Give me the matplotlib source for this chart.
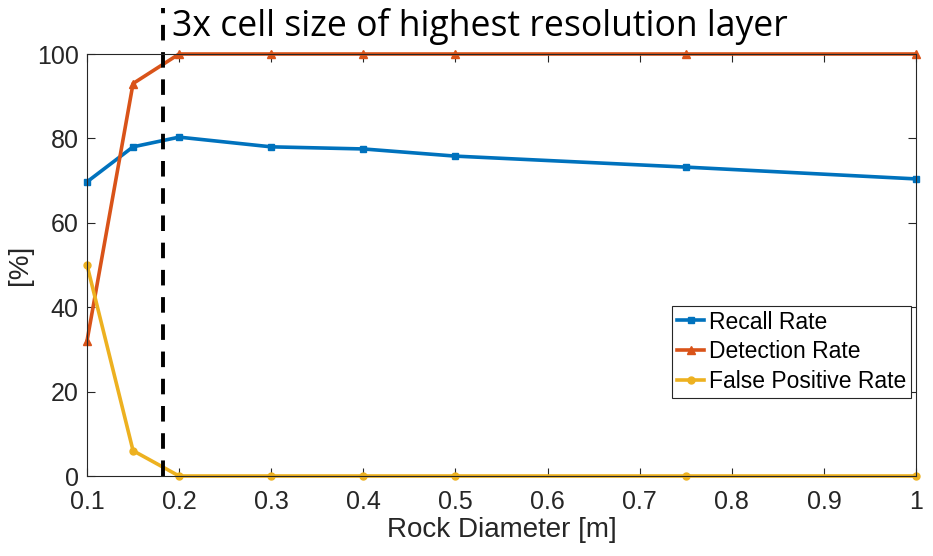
import matplotlib.pyplot as plt
import numpy as np

# rock diameter [m]
diameters = [0.1, 0.15, 0.2, 0.3, 0.4, 0.5, 0.75, 1.0]
recall_rate = [69.7, 78.0, 80.3, 78.0, 77.5, 75.8, 73.2, 70.4]
detection_rate = [32.0, 93.0, 100, 100, 100, 100, 100, 100]
false_pos_rate = [50.0, 6.0, 0, 0, 0, 0, 0, 0]
cell_limit = 0.1825

plt.rcParams['font.family'] = ['Liberation Sans', 'DejaVu Sans']

fig = plt.figure(figsize=(9.33, 5.56), dpi=100)
ax = fig.add_axes([87 / 933, 80 / 556, 829 / 933, 422 / 556])

ax.plot(diameters, recall_rate, '-s', color='#0072BD', lw=2.6, ms=5, label='Recall Rate', clip_on=False)
ax.plot(diameters, detection_rate, '-^', color='#D95319', lw=2.6, ms=6, label='Detection Rate', clip_on=False)
ax.plot(diameters, false_pos_rate, '-o', color='#EDB120', lw=2.6, ms=5, label='False Positive Rate', clip_on=False)

ax.set_xlim(0.1, 1)
ax.set_ylim(0, 100)
ax.set_xticks(np.arange(0.1, 1.01, 0.1))
ax.set_xticklabels(['0.1', '0.2', '0.3', '0.4', '0.5', '0.6', '0.7', '0.8', '0.9', '1'])
ax.set_yticks(range(0, 101, 20))
ax.tick_params(direction='in', top=True, right=True, labelsize=18, colors='#262626', length=6, width=0.8, pad=6)
ax.tick_params(axis='x', pad=10)
for sp in ax.spines.values():
    sp.set_color('#262626')
    sp.set_linewidth(0.8)

ax.set_xlabel('Rock Diameter [m]', fontsize=20, color='#262626', labelpad=2)
ax.set_ylabel('[%]', fontsize=20, color='#262626', labelpad=3)

# dashed marker line reaching above the axes
ax.plot([cell_limit, cell_limit], [0, 111], '--', color='black', lw=2.8, dashes=(4, 3), clip_on=False)
ax.text(cell_limit + 0.01, 106.5, '3x cell size of highest resolution layer', fontsize=25.6,
        family=['Open Sans', 'DejaVu Sans'], ha='left', va='center', clip_on=False)

leg = ax.legend(loc='upper left', bbox_to_anchor=(0.706, 0.403), fontsize=16.5, handlelength=1.2,
                handletextpad=0.2, borderpad=0.2, labelspacing=0.3, fancybox=False, framealpha=1,
                borderaxespad=0)
leg.get_frame().set_edgecolor('#262626')
leg.get_frame().set_linewidth(0.8)

fig.savefig('out.png', dpi=100)
